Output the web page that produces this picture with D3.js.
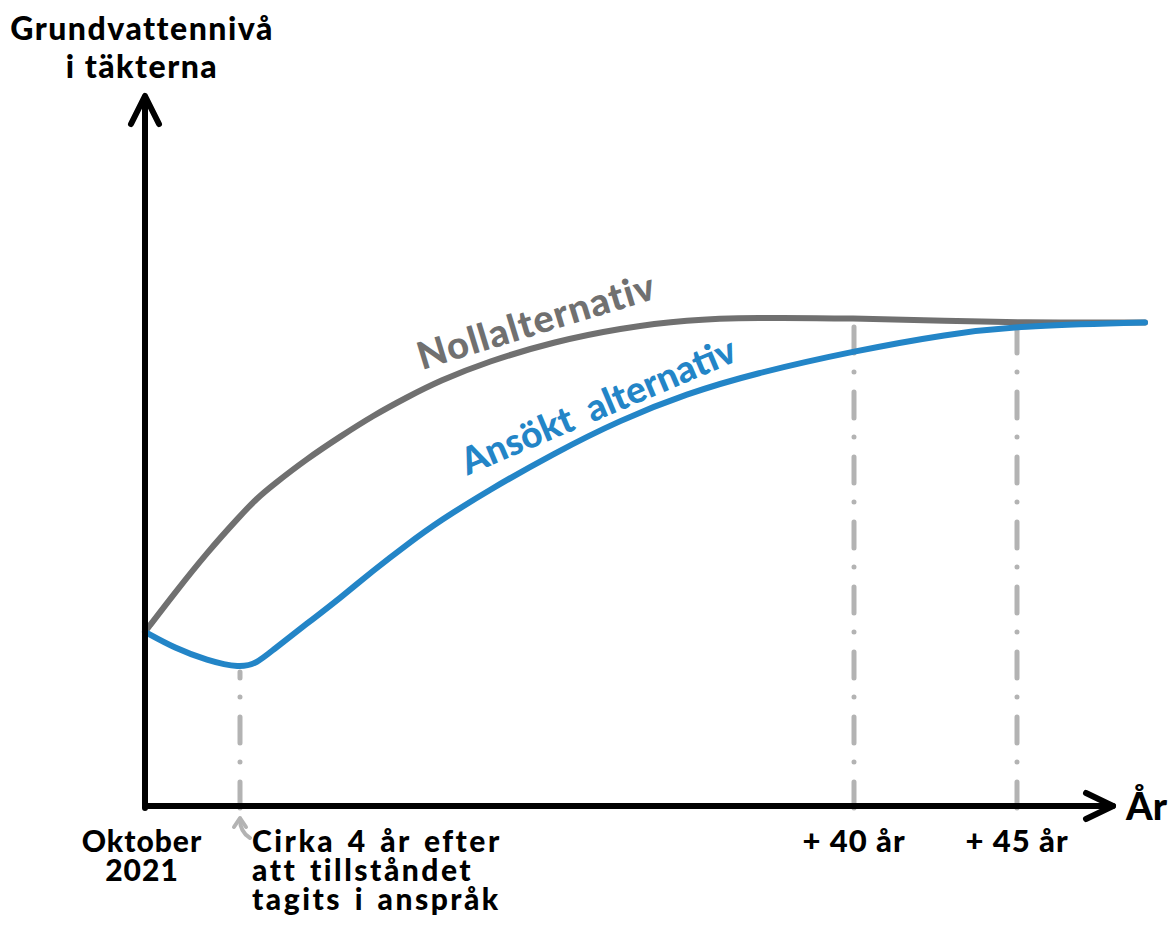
<!DOCTYPE html>
<html lang="sv">
<head>
<meta charset="utf-8">
<script src="https://cdn.jsdelivr.net/npm/d3@7"></script>
<style>
  html, body { margin: 0; padding: 0; background: #fff; }
  svg { display: block; }
  text { font-family: Lato, "Open Sans", sans-serif; font-weight: 900; }
</style>
</head>
<body>
<svg id="chart" width="1175" height="932"></svg>
<script>
// Years after October 2021 (schematic time axis)
const years = [0, 1.26, 2.6, 4, 5, 5.9, 7.9, 9.9, 11.8, 13.8, 15.7, 18.5, 22.4, 26.3, 30.2, 34.1, 40, 42.9, 45, 49];

// Groundwater level (relative units) without the quarry permit
const nollalternativ = [24.5, 30.0, 35.6, 40.8, 43.3, 45.1, 48.8, 52.0, 54.9, 57.5, 59.8, 62.5,
  65.3, 67.2, 68.4, 68.7, 68.6, 68.2, 68.0, 68.0];

// Groundwater level (relative units) with the applied alternative
const ansoktAlternativ = [24.5, 22.2, 20.5, 19.4, 20.1, 21.9, 25.6, 29.3, 33.1, 36.8, 40.1, 44.3,
  49.6, 54.3, 58.0, 60.8, 64.0, 66.4, 67.5, 68.0];

// Marked points in time and their labels
const markerYears = [4, 40, 45];
const tickYears = [0, 4, 40, 45];
const tickLabels = [
  ["Oktober", "2021"],
  ["Cirka 4 år efter", "att tillståndet", "tagits i anspråk"],
  ["+ 40 år"],
  ["+ 45 år"]
];

const axisTitleY = ["Grundvattennivå", "i täkterna"];
const axisTitleX = "År";

const svg = d3.select("#chart");

// The time axis is a sketch, not to scale: each segment has its own stretch
const x = d3.scaleLinear()
  .domain([0, 4, 40, 45, 49])
  .range([145, 240, 854, 1017, 1145]);

const y = d3.scaleLinear()
  .domain([0, 100])
  .range([806, 95]);

const grey = "#707070";
const blue = "#2385c7";
const guide = "#b3b3b3";

// Dash-dot guides from the curves down to the time axis:
// the early one ends at the dip of the applied alternative, the later ones at the upper curve
svg.append("g")
  .selectAll("line")
  .data(markerYears)
  .join("line")
  .attr("x1", d => x(d))
  .attr("x2", d => x(d))
  .attr("y1", y(0) + 2)
  .attr("y2", d => {
    const i = years.indexOf(d);
    return d < 10 ? y(ansoktAlternativ[i]) + 4 : y(nollalternativ[i]);
  })
  .attr("stroke", guide)
  .attr("stroke-width", 5)
  .attr("stroke-linecap", "round")
  .attr("stroke-dasharray", "26,20,0.01,19");

// Curves
const line = d3.line()
  .x((d, i) => x(years[i]))
  .y(d => y(d))
  .curve(d3.curveBasis);

svg.append("path")
  .datum(nollalternativ)
  .attr("d", line)
  .attr("fill", "none")
  .attr("stroke", grey)
  .attr("stroke-width", 6)
  .attr("stroke-linecap", "round")
  .attr("stroke-linejoin", "round");

svg.append("path")
  .datum(ansoktAlternativ)
  .attr("d", line)
  .attr("fill", "none")
  .attr("stroke", blue)
  .attr("stroke-width", 6)
  .attr("stroke-linecap", "round")
  .attr("stroke-linejoin", "round");

// Axes with arrow heads
const axes = svg.append("g")
  .attr("fill", "none")
  .attr("stroke", "#000")
  .attr("stroke-width", 6)
  .attr("stroke-linecap", "round")
  .attr("stroke-linejoin", "round");

const x0 = x.range()[0];
const yBase = y.range()[0];
const yTop = y.range()[1];
const xEnd = 1113;

axes.append("path")
  .attr("d", `M${x0},${yBase + 2}V${yTop + 2}`);
axes.append("path")
  .attr("d", `M${x0 - 14},${yTop + 29}L${x0},${yTop + 1}L${x0 + 14},${yTop + 29}`);
axes.append("path")
  .attr("d", `M${x0},${yBase}H${xEnd}`);
axes.append("path")
  .attr("d", `M${xEnd - 27},${yBase - 13}L${xEnd},${yBase}L${xEnd - 27},${yBase + 13}`);

// Axis titles
svg.append("text")
  .attr("y", 40)
  .attr("text-anchor", "middle")
  .attr("font-size", 32)
  .attr("letter-spacing", 1.5)
  .selectAll("tspan")
  .data(axisTitleY)
  .join("tspan")
  .attr("x", 142)
  .attr("dy", (d, i) => i === 0 ? 0 : 38)
  .text(d => d);

svg.append("text")
  .attr("x", 1126)
  .attr("y", 820)
  .attr("font-size", 38)
  .text(axisTitleX);

// Time labels under the axis
const tickG = svg.append("g").attr("fill", "#000");
tickYears.forEach((yr, i) => {
  const lines = tickLabels[i];
  const leftAligned = i === 1;
  const t = tickG.append("text")
    .attr("text-anchor", leftAligned ? "start" : "middle")
    .attr("font-size", i >= 2 ? 31 : 30)
    .attr("letter-spacing", leftAligned ? 2.5 : 1)
    .attr("word-spacing", leftAligned ? 3 : 0)
    .attr("y", 852);
  t.selectAll("tspan")
    .data(lines)
    .join("tspan")
    .attr("x", leftAligned ? x(yr) + 12 : (i === 0 ? x(yr) - 3 : x(yr)))
    .attr("dy", (d, j) => j === 0 ? 0 : 29)
    .text(d => d);
});

// Small pointer from the 4-year note up to the axis
const px = x(4);
svg.append("path")
  .attr("d", `M${px + 10},${yBase + 32}Q${px},${yBase + 26} ${px},${yBase + 13}`)
  .attr("fill", "none")
  .attr("stroke", guide)
  .attr("stroke-width", 4)
  .attr("stroke-linecap", "round");
svg.append("path")
  .attr("d", `M${px - 6},${yBase + 21}L${px},${yBase + 12}L${px + 6},${yBase + 21}`)
  .attr("fill", "none")
  .attr("stroke", guide)
  .attr("stroke-width", 4)
  .attr("stroke-linecap", "round")
  .attr("stroke-linejoin", "round");

// Series labels along the curves
svg.append("text")
  .attr("transform", `translate(${x(21.6)},${y(66.4)}) rotate(-17)`)
  .attr("text-anchor", "middle")
  .attr("font-size", 38)
  .attr("letter-spacing", 1)
  .attr("fill", grey)
  .text("Nollalternativ");

svg.append("text")
  .attr("transform", `translate(${x(25.3)},${y(54.6)}) rotate(-23)`)
  .attr("text-anchor", "middle")
  .attr("font-size", 37)
  .attr("word-spacing", 8)
  .attr("fill", blue)
  .text("Ansökt alternativ");
</script>
</body>
</html>
